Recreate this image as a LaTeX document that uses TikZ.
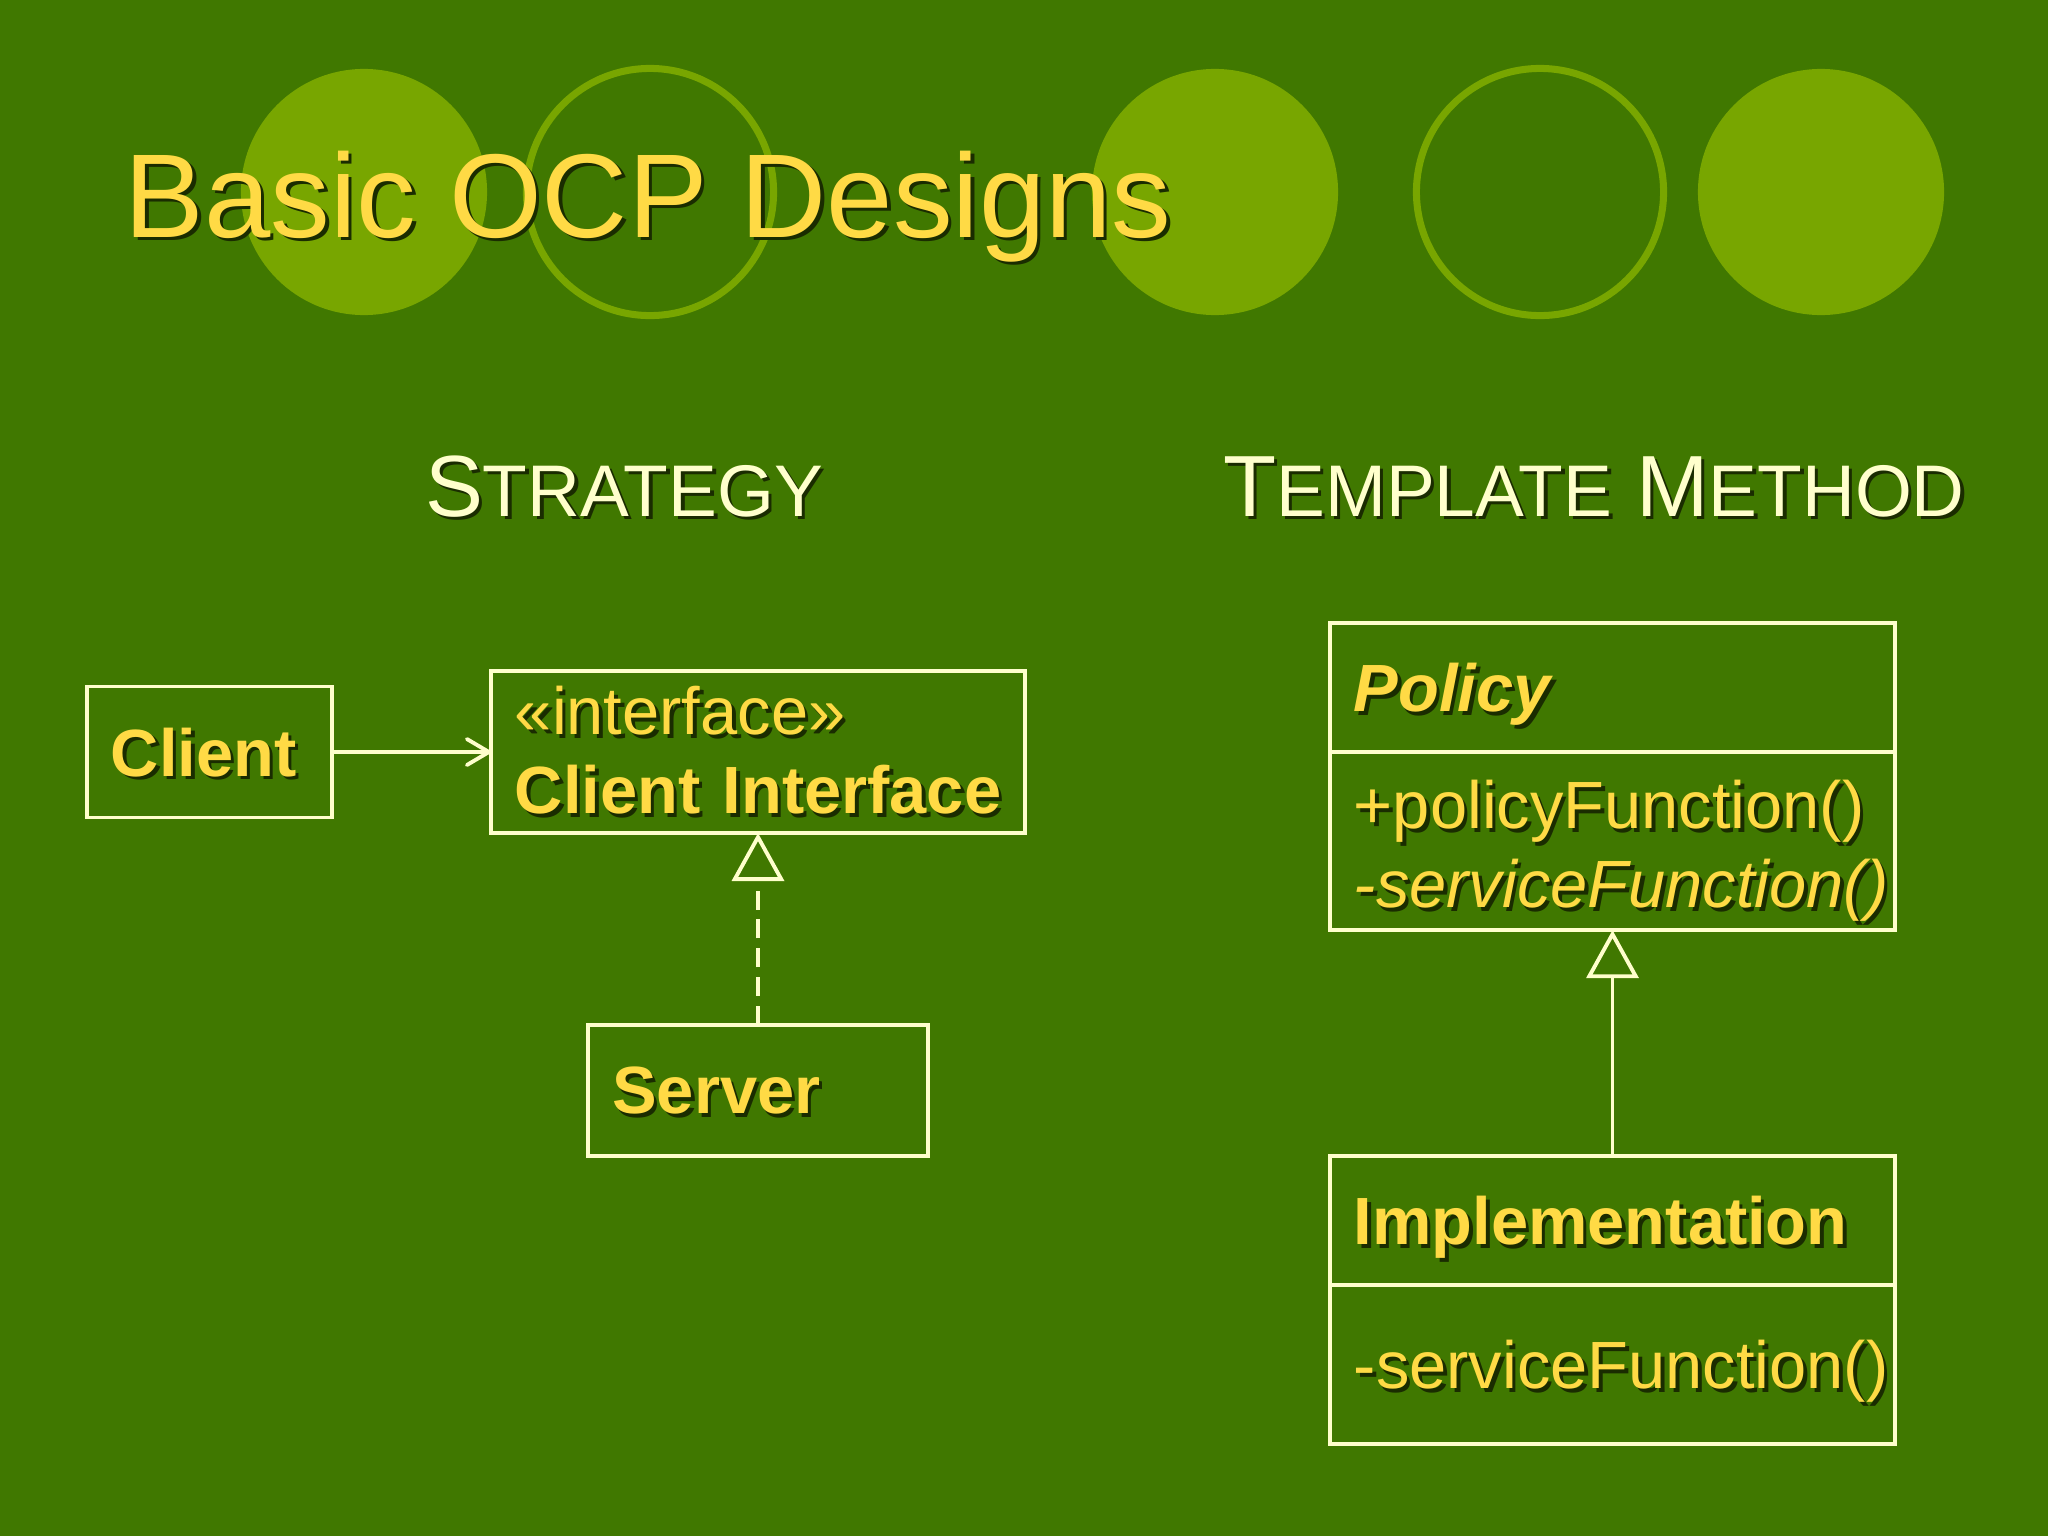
\documentclass[tikz,border=0pt]{standalone}
\usepackage{fontspec}
\setmainfont{Liberation Sans}
\usetikzlibrary{positioning}
\usetikzlibrary{arrows.meta}
\definecolor{slide-green}{HTML}{407800}
\definecolor{slide-lime}{HTML}{78A600}
\definecolor{slide-gold}{HTML}{FFDA45}
\definecolor{slide-cream}{HTML}{FFFFCC}
\definecolor{slide-shade}{HTML}{1A2C00}
\colorlet{box-line}{slide-cream}
\newcommand{\shadowed}[1]{\mbox{\rlap{\kern0.035cm\raisebox{-0.035cm}{\color{slide-shade}#1}}#1}}
\newcommand{\fakesc}[2]{#1{\fontsize{20.8pt}{24pt}\selectfont #2}}
\tikzset{
  uml-box/.style={draw=box-line, line width=1.1pt, outer sep=0pt, inner xsep=0.24cm, inner ysep=0pt,
    text=slide-gold, align=left, font=\fontsize{19pt}{22.5pt}\selectfont},
  one-line/.style={text depth=0pt},
  pattern-name/.style={anchor=base, inner sep=0pt, text=slide-cream, font=\fontsize{24.7pt}{28pt}\selectfont},
  uses-path/.style={box-line, line width=1.1pt, -{Straight Barb[length=0.22cm, width=0.26cm, round]}},
  realize-path/.style={box-line, line width=1.1pt, dash pattern=on 5.4pt off 2.8pt, -{Triangle[open, length=0.48cm, width=0.52cm]}},
  inherit-path/.style={box-line, line width=1.1pt, -{Triangle[open, length=0.48cm, width=0.52cm]}},
}
\begin{document}
\begin{tikzpicture}[x=0.01cm, y=-0.01cm]
\fill[slide-green] (0,0) rectangle (2048,1536);
\useasboundingbox (0,0) rectangle (2048,1536);
% slide decoration
\fill[slide-lime] (364,192) circle (1.23cm);
\draw[slide-lime, line width=2pt] (650,192) circle (1.235cm);
\fill[slide-lime] (1215,192) circle (1.23cm);
\draw[slide-lime, line width=2pt] (1540,192) circle (1.235cm);
\fill[slide-lime] (1821,192) circle (1.23cm);
\node[anchor=base west, inner sep=0pt, text=slide-gold, font=\fontsize{33.9pt}{38pt}\selectfont] (title) at (124,237) {\shadowed{Basic OCP Designs}};
\node[pattern-name] (strategy) at (624,516) {\shadowed{\fakesc{S}{TRATEGY}}};
\node[pattern-name] (template) at (1594,516) {\shadowed{\fakesc{T}{EMPLATE} \fakesc{M}{ETHOD}}};
% strategy
\node[uml-box, one-line, minimum width=2.45cm, minimum height=1.31cm, text width=1.97cm] at (209.5,752) (client) {\shadowed{\textbf{Client}}};
\node[uml-box, minimum width=5.34cm, minimum height=1.62cm, text width=4.86cm] at (758,752) (iface)
  {\shadowed{«interface»}\\\shadowed{\textbf{Client Interface}}};
\node[uml-box, one-line, minimum width=3.39cm, minimum height=1.31cm, text width=2.91cm] at (758,1090.5) (server) {\shadowed{\textbf{Server}}};
\draw[uses-path] (client) -- (iface);
\draw[realize-path] (server) -- (iface);
% template method
\node[uml-box, one-line, minimum height=1.29cm, text width=5.17cm] at (1612.5,687.5) (policy) {\shadowed{\textbf{\textit{Policy}}}};
\node[uml-box, minimum height=1.78cm, text width=5.17cm, text depth=0.73cm, below=0pt of policy] (policy ops)
  {\shadowed{+policyFunction()}\\\shadowed{\textit{-serviceFunction()}}};
\node[uml-box, one-line, minimum height=1.29cm, text width=5.17cm] at (1612.5,1220.5) (impl) {\shadowed{\textbf{Implementation}}};
\node[uml-box, one-line, minimum height=1.59cm, text width=5.17cm, below=0pt of impl] (impl ops) {\shadowed{-serviceFunction()}};
\draw[inherit-path] (impl) -- (policy ops);
\end{tikzpicture}
\end{document}
